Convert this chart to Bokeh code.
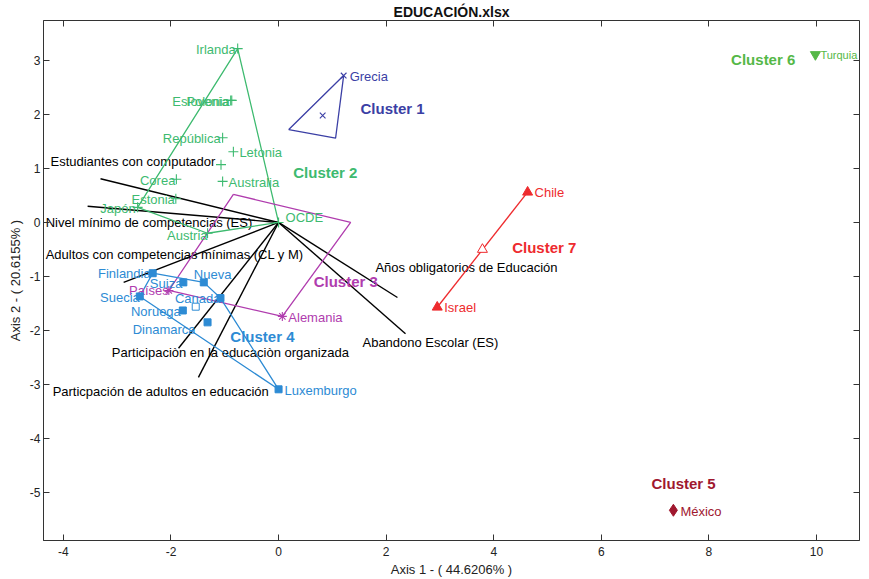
import numpy as np
from bokeh.plotting import figure
from bokeh.models import LinearAxis, Range1d, FixedTicker, ColumnDataSource
from bokeh.core.properties import value
from bokeh.embed import file_html
from bokeh.resources import INLINE

FONT = "Liberation Sans"

# ---- cluster members (biplot scores on axis 1 / axis 2) ----
c1_names = ["Grecia", "", ""]
c1_x = [1.21, 0.19, 1.06]
c1_y = [2.72, 1.72, 1.56]

c2_names = ["Irlanda", "Eslovenia", "Polonia", "República", "Letonia", "Australia",
            "Corea", "Estonia", "Japón", "Austria", "OCDE"]
c2_x = [-0.76, -0.89, -0.87, -1.04, -0.84, -1.04, -1.90, -1.91, -2.62, -1.32, 0.0]
c2_y = [3.22, 2.26, 2.26, 1.57, 1.31, 0.76, 0.80, 0.44, 0.28, -0.20, 0.0]

c3_names = ["", "", "Alemania", "Países"]
c3_x = [-0.84, 1.34, 0.07, -2.04]
c3_y = [0.52, 0.00, -1.74, -1.26]

c4_names = ["Finlandia", "Nueva", "Suiza", "Suecia", "Canadá", "Noruega", "Dinamarca", "Luxemburgo"]
c4_x = [-2.34, -1.39, -1.77, -2.58, -1.08, -1.78, -1.32, 0.00]
c4_y = [-0.94, -1.11, -1.11, -1.37, -1.40, -1.63, -1.85, -3.09]

c5_names = ["México"]
c5_x = [7.34]
c5_y = [-5.33]

c6_names = ["Turquia"]
c6_x = [9.98]
c6_y = [3.11]

c7_names = ["Chile", "Israel"]
c7_x = [4.63, 2.95]
c7_y = [0.56, -1.57]

# cluster centroids
cent1 = (0.82, 1.98)
cent2 = (-1.07, 1.07)
cent4 = (-1.54, -1.56)
cent7 = (3.79, -0.50)

# hull vertex order for each cluster outline
c1_hull = [0, 1, 2]
c2_hull = [0, 10, 9, 8]
c3_hull = [0, 1, 2, 3]
c4_hull = [0, 1, 4, 7, 3]

# ---- variable loadings ----
vec_names = ["Estudiantes con computador",
             "Nivel mínimo de competencias (ES)",
             "Adultos con competencias mínimas (CL y M)",
             "Participaciòn en la educaciòn organizada",
             "Particpación de adultos en educación",
             "Años obligatorios de Educación",
             "Abandono Escolar (ES)"]
vec_x = [-3.31, -3.55, -2.88, -1.86, -1.49, 2.21, 2.36]
vec_y = [0.81, 0.30, -1.11, -2.33, -2.87, -1.39, -2.06]

# label anchors for the loading vectors (left edge, vertical middle)
vec_lab_x = [-4.24, -4.33, -4.33, -3.10, -4.20, 1.80, 1.56]
vec_lab_y = [1.13, 0.00, -0.59, -2.41, -3.13, -0.83, -2.22]

cluster_titles = ["Cluster 1", "Cluster 2", "Cluster 3", "Cluster 4", "Cluster 5", "Cluster 6", "Cluster 7"]
cluster_tx = [2.12, 0.87, 1.25, -0.30, 7.53, 9.01, 4.94]
cluster_ty = [2.11, 0.93, -1.09, -2.11, -4.83, 3.02, -0.46]

x_ticks = [-4, -2, 0, 2, 4, 6, 8, 10]
y_ticks = [-5, -4, -3, -2, -1, 0, 1, 2, 3]

COL = {1: "#3b3fa5", 2: "#3dba6f", 3: "#b03cae", 4: "#2d8bd4",
       5: "#a0182f", 6: "#55b847", 7: "#ee2b2e"}

p = figure(width=869, height=579, x_range=Range1d(-4.37, 10.8), y_range=Range1d(-5.89, 3.74),
           output_backend="svg", toolbar_location=None,
           min_border_left=43, min_border_right=10, min_border_top=20, min_border_bottom=39)
p.background_fill_color = "white"
p.border_fill_color = "white"
p.xgrid.visible = False
p.ygrid.visible = False
p.outline_line_color = "#333333"
p.outline_line_width = 1

p.title.text = "EDUCACIÓN.xlsx"
p.title.align = "center"
p.title.text_font = FONT
p.title.text_font_size = "14px"
p.title.text_font_style = "bold"
p.title.text_color = "#111111"
p.title.standoff = 2

for ax, ticks in ((p.xaxis[0], x_ticks), (p.yaxis[0], y_ticks)):
    ax.ticker = FixedTicker(ticks=ticks)
    ax.major_label_overrides = {t: str(t) for t in ticks}
    ax.major_tick_in = 6
    ax.major_tick_out = 0
    ax.minor_tick_in = 0
    ax.minor_tick_out = 0
    ax.axis_line_color = "#333333"
    ax.major_tick_line_color = "#333333"
    ax.major_label_text_font = FONT
    ax.major_label_text_font_size = "12px"
    ax.major_label_text_color = "#222222"
    ax.axis_label_text_font = FONT
    ax.axis_label_text_font_size = "13px"
    ax.axis_label_text_font_style = "normal"
    ax.axis_label_text_color = "#222222"

p.xaxis[0].axis_label = "Axis 1 - ( 44.6206% )"
p.xaxis[0].major_label_standoff = 6
p.xaxis[0].axis_label_standoff = 3
p.yaxis[0].axis_label = "Axis 2 - ( 20.6155% )"
p.yaxis[0].major_label_standoff = 3
p.yaxis[0].axis_label_standoff = 4

# tick marks only along the top and right edges of the frame
for place, ticks in (("above", x_ticks), ("right", y_ticks)):
    ax = LinearAxis(ticker=FixedTicker(ticks=ticks), major_tick_in=6, major_tick_out=0,
                    minor_tick_in=0, minor_tick_out=0, axis_line_color=None,
                    major_tick_line_color="#333333",
                    major_label_overrides={t: "" for t in ticks},
                    major_label_text_font_size="1px", major_label_standoff=0)
    p.add_layout(ax, place)

# ---- loading vectors ----
p.segment(x0=[0.0] * len(vec_x), y0=[0.0] * len(vec_y), x1=vec_x, y1=vec_y,
          line_color="black", line_width=1.4)
p.text(x=vec_lab_x, y=vec_lab_y, text=vec_names, text_font=value(FONT), text_font_size="13px",
       text_color="black", text_align="left", text_baseline="middle")


def outline(xs, ys, order, color):
    hx = [xs[i] for i in order] + [xs[order[0]]]
    hy = [ys[i] for i in order] + [ys[order[0]]]
    p.line(hx, hy, line_color=color, line_width=1.3)


outline(c1_x, c1_y, c1_hull, COL[1])
outline(c2_x, c2_y, c2_hull, COL[2])
outline(c3_x, c3_y, c3_hull, COL[3])
outline(c4_x, c4_y, c4_hull, COL[4])
p.line(c7_x, c7_y, line_color=COL[7], line_width=1.3)


def labels(names, xs, ys, aligns, dxs, dys, color, size="13px"):
    src = ColumnDataSource(dict(x=xs, y=ys, t=names, a=aligns, dx=dxs, dy=dys))
    p.text(x="x", y="y", text="t", text_align="a", x_offset="dx", y_offset="dy", source=src,
           text_font=value(FONT), text_font_size=size, text_color=color, text_baseline="middle")


# cluster 1
p.scatter([c1_x[0]], [c1_y[0]], marker="x", size=8, line_color=COL[1], line_width=1.1)
p.scatter([cent1[0]], [cent1[1]], marker="x", size=8, line_color=COL[1], line_width=1.1)
labels(c1_names[:1], c1_x[:1], c1_y[:1], ["left"], [6], [1], COL[1])

# cluster 2
p.scatter(c2_x, c2_y, marker="cross", size=10, line_color=COL[2], line_width=1.1)
p.scatter([cent2[0]], [cent2[1]], marker="cross", size=10, line_color=COL[2], line_width=1.1)
labels(c2_names, c2_x, c2_y,
       ["right", "right", "right", "right", "left", "left", "right", "right", "right", "right", "left"],
       [-2, -2, -2, -2, 6, 6, -1, -1, -2, 0, 7],
       [1, 1, 1, 1, 1, 1, 1, 1, 1, 2, -5], COL[2])

# cluster 3
p.scatter(c3_x[2:], c3_y[2:], marker="asterisk", size=9, line_color=COL[3], line_width=1.1)
labels(c3_names[2:], c3_x[2:], c3_y[2:], ["left", "right"], [6, 0], [1, 0], COL[3])

# cluster 4
p.scatter(c4_x, c4_y, marker="square", size=7, fill_color=COL[4], line_color=COL[4])
p.scatter([cent4[0]], [cent4[1]], marker="square", size=7, fill_color="white", line_color=COL[4])
labels(c4_names, c4_x, c4_y,
       ["right", "left", "right", "right", "right", "right", "right", "left"],
       [-2, -10, -1, 0, 0, -2, -12, 6],
       [0, -8, 1, 1, 0, 1, 7, 1], COL[4])

# cluster 5
p.scatter(c5_x, c5_y, marker="diamond", size=12, fill_color=COL[5], line_color=COL[5])
labels(c5_names, c5_x, c5_y, ["left"], [7], [1], COL[5])

# cluster 6 (slightly smaller name so it stays inside the frame)
p.scatter(c6_x, c6_y, marker="inverted_triangle", size=10, fill_color=COL[6], line_color=COL[6])
labels(c6_names, c6_x, c6_y, ["left"], [5], [0], COL[6], size="11px")

# cluster 7
p.scatter(c7_x, c7_y, marker="triangle", size=10, fill_color=COL[7], line_color=COL[7])
p.scatter([cent7[0]], [cent7[1]], marker="triangle", size=10, fill_color="white", line_color=COL[7])
labels(c7_names, c7_x, c7_y, ["left", "left"], [7, 7], [0, 0], COL[7])

# cluster titles
p.text(x=cluster_tx, y=cluster_ty, text=cluster_titles,
       text_color=[COL[i] for i in range(1, 8)], text_font=value(FONT),
       text_font_size="15px", text_font_style="bold", text_align="center", text_baseline="middle")

open("out.html", "w").write(file_html(p, INLINE))
